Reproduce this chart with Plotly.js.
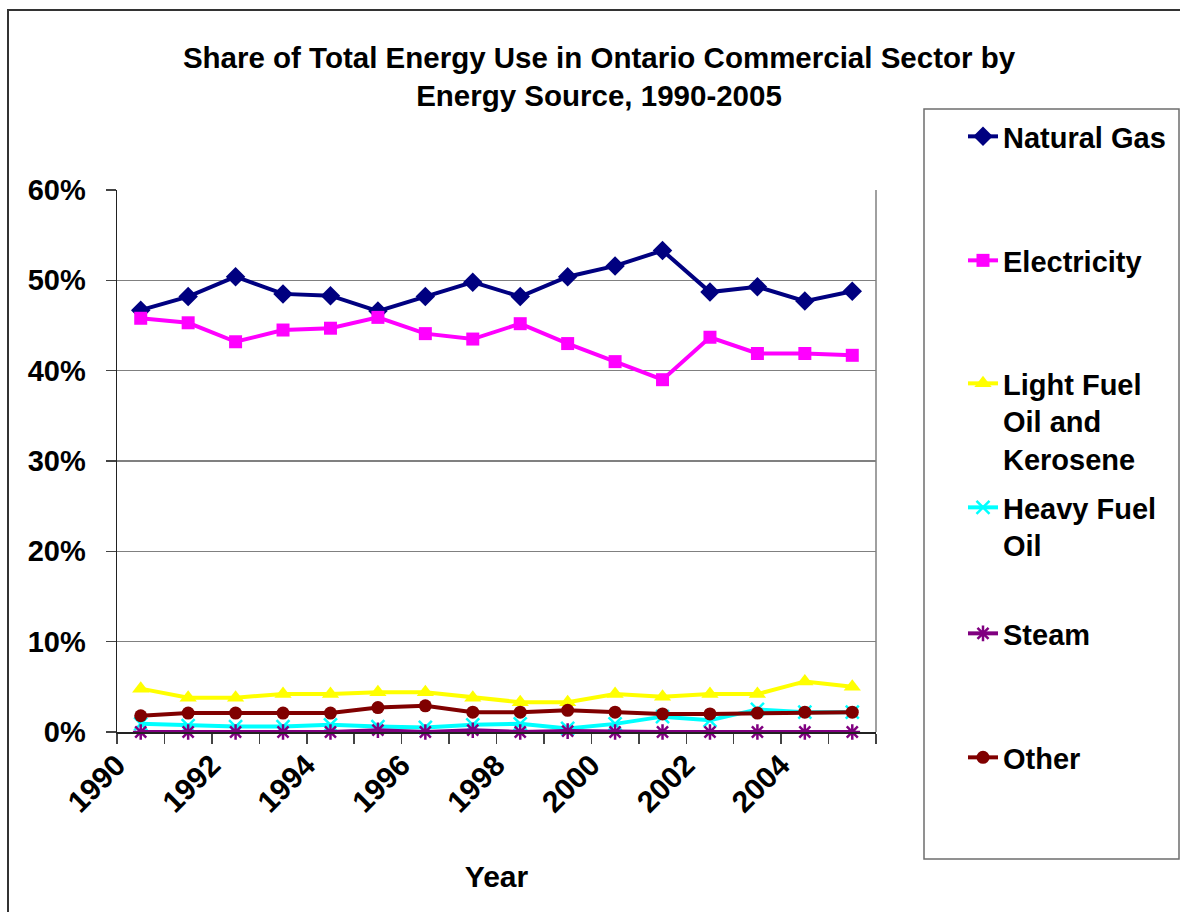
<!DOCTYPE html>
<html>
<head>
<meta charset="utf-8">
<script src="https://cdn.plot.ly/plotly-3.0.1.min.js"></script>
<style>
  html, body { margin: 0; padding: 0; background: #ffffff; }
  #chart { width: 1180px; height: 912px; }
</style>
</head>
<body>
<div id="chart"></div>
<script>
// ---- Data (values in percent) ----
const years = [1990, 1991, 1992, 1993, 1994, 1995, 1996, 1997, 1998, 1999, 2000, 2001, 2002, 2003, 2004, 2005];
const naturalGas   = [46.7, 48.2, 50.4, 48.5, 48.3, 46.6, 48.2, 49.8, 48.2, 50.4, 51.6, 53.3, 48.7, 49.3, 47.7, 48.8];
const electricity  = [45.8, 45.3, 43.2, 44.5, 44.7, 45.9, 44.1, 43.5, 45.2, 43.0, 41.0, 39.0, 43.7, 41.9, 41.9, 41.7];
const lightFuelOil = [4.8, 3.8, 3.8, 4.2, 4.2, 4.4, 4.4, 3.8, 3.3, 3.3, 4.2, 3.9, 4.2, 4.2, 5.6, 5.0];
const heavyFuelOil = [0.9, 0.7, 0.6, 0.6, 0.8, 0.6, 0.5, 0.8, 0.9, 0.4, 0.9, 1.7, 1.3, 2.5, 2.2, 2.2];
const steam        = [0.0, 0.0, 0.0, 0.0, 0.0, 0.2, 0.0, 0.2, 0.0, 0.1, 0.0, 0.0, 0.0, 0.0, 0.0, 0.0];
const other        = [1.8, 2.1, 2.1, 2.1, 2.1, 2.7, 2.9, 2.2, 2.2, 2.4, 2.2, 2.0, 2.0, 2.1, 2.2, 2.2];

const seriesNames = ["Natural Gas", "Electricity", "Light Fuel<br>Oil and<br>Kerosene", "Heavy Fuel<br>Oil", "Steam", "Other"];
const xTickVals  = [1990, 1992, 1994, 1996, 1998, 2000, 2002, 2004];
const xTickText  = ["1990", "1992", "1994", "1996", "1998", "2000", "2002", "2004"];
const yTickVals  = [0, 10, 20, 30, 40, 50, 60];
const yTickText  = ["0%", "10%", "20%", "30%", "40%", "50%", "60%"];

const titleText = "Share of Total Energy Use in Ontario Commercial Sector by<br>Energy Source, 1990-2005";

// ---- Styles ----
const FONT = "Liberation Sans, Arial, Helvetica, sans-serif";
const LW = 4;

function mk(name, y, color, symbol, size, legendId, open) {
  const marker = { symbol: symbol, size: size, color: color };
  if (open) marker.line = { color: color, width: 2.5 };
  return {
    x: years, y: y, name: name, type: "scatter", mode: "lines+markers",
    line: { color: color, width: LW },
    marker: marker, cliponaxis: false, legend: legendId
  };
}

const traces = [
  mk(seriesNames[0], naturalGas,   "#000080", "diamond",      15, "legend",  false),
  mk(seriesNames[1], electricity,  "#FF00FF", "square",       13, "legend2", false),
  mk(seriesNames[2], lightFuelOil, "#FFFF00", "triangle-up",  15, "legend3", false),
  mk(seriesNames[3], heavyFuelOil, "#00FFFF", "x-thin-open",  13, "legend4", true),
  mk(seriesNames[4], steam,        "#800080", "asterisk-open",13, "legend5", true),
  mk(seriesNames[5], other,        "#800000", "circle",       13, "legend6", false)
];

// legend rows (pixel centre of first text line)
const legendRowsPx = [138, 262, 385, 509, 635, 759];
const H = 912, W = 1180;
const legendTextLeftPx = 963;

function legendCfg(rowPx) {
  return {
    xref: "container", yref: "container",
    x: legendTextLeftPx / W, xanchor: "left",
    y: 1 - (rowPx - 27) / H, yanchor: "top",
    bgcolor: "rgba(0,0,0,0)", borderwidth: 0,
    valign: "top",
    font: { family: FONT, size: 29, color: "#000", weight: "bold" }
  };
}

const layout = {
  width: W, height: H,
  paper_bgcolor: "#ffffff", plot_bgcolor: "#ffffff",
  margin: { l: 117, r: 304, t: 190, b: 180 },
  showlegend: true,
  title: {
    text: titleText,
    x: 599 / W, xanchor: "center", xref: "container",
    y: 1 - 68 / H, yanchor: "middle", yref: "container",
    font: { family: FONT, size: 29.5, color: "#000", weight: "bold" }
  },
  xaxis: {
    type: "linear", range: [1989.5, 2005.5],
    tickmode: "array", tickvals: xTickVals, ticktext: xTickText,
    tickangle: -45, ticks: "", showgrid: false, zeroline: false,
    ticklabelshift: -24, ticklabelstandoff: 2,
    showline: true, linecolor: "#222", linewidth: 1.5,
    tickfont: { family: FONT, size: 30, color: "#000", weight: "bold" },
    minor: { tickmode: "linear", tick0: 1989.5, dtick: 1, ticks: "outside", ticklen: 10, tickwidth: 1.5, tickcolor: "#444", showgrid: false },
    title: { text: "Year", font: { family: FONT, size: 30, color: "#000", weight: "bold" }, standoff: 48 },
    automargin: false
  },
  yaxis: {
    range: [0, 60], tickmode: "array", tickvals: yTickVals, ticktext: yTickText,
    ticks: "outside", ticklen: 10, tickwidth: 1.5, tickcolor: "#444",
    showgrid: true, gridcolor: "#808080", gridwidth: 1.5,
    zeroline: false, showline: true, linecolor: "#222", linewidth: 1.5,
    ticklabelstandoff: 14,
    tickfont: { family: FONT, size: 29, color: "#000", weight: "bold" },
    automargin: false
  },
  legend:  legendCfg(legendRowsPx[0]),
  legend2: legendCfg(legendRowsPx[1]),
  legend3: legendCfg(legendRowsPx[2]),
  legend4: legendCfg(legendRowsPx[3]),
  legend5: legendCfg(legendRowsPx[4]),
  legend6: legendCfg(legendRowsPx[5]),
  shapes: [
    // right border of plot area
    { type: "line", xref: "paper", yref: "paper", x0: 1, x1: 1, y0: 0, y1: 1, line: { color: "#808080", width: 1.5 } },
    // legend box
    { type: "rect", xref: "paper", yref: "paper",
      x0: (924 - 117) / 759, x1: (1179 - 117) / 759,
      y0: (732 - 859) / 542, y1: (732 - 109) / 542,
      line: { color: "#6e6e6e", width: 1.5 }, fillcolor: "rgba(0,0,0,0)" },
    // outer chart border
    { type: "rect", xref: "paper", yref: "paper",
      x0: (8 - 117) / 759, x1: 1.6,
      y0: -0.6, y1: (732 - 10) / 542,
      line: { color: "#333", width: 2 }, fillcolor: "rgba(0,0,0,0)" }
  ]
};

Plotly.newPlot("chart", traces, layout, { displayModeBar: false, staticPlot: true });
</script>
</body>
</html>
